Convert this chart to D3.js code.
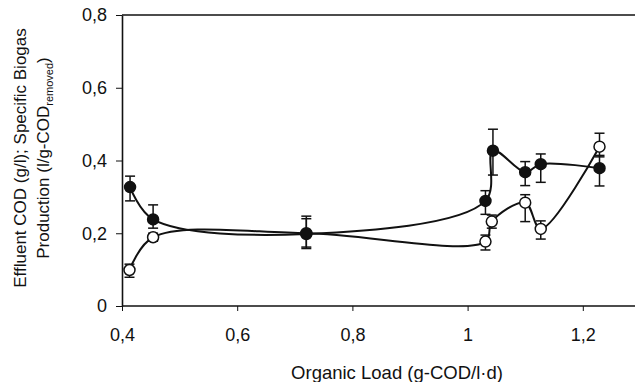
<!DOCTYPE html>
<html>
<head>
<meta charset="utf-8">
<script src="https://cdn.jsdelivr.net/npm/d3@7"></script>
<style>
  body { margin: 0; background: #fff; }
  text { font-family: "Liberation Sans", Arial, sans-serif; fill: #111; }
</style>
</head>
<body>
<div id="chart"></div>
<script>
// organic load (x) and the two series
const codLoad = [0.414, 0.454, 0.72, 1.031, 1.044, 1.1, 1.127, 1.229];
const codValue = [0.327, 0.238, 0.198, 0.289, 0.427, 0.368, 0.39, 0.379];
const codHigh = [0.357, 0.278, 0.247, 0.317, 0.486, 0.397, 0.418, 0.414];
const codLow = [0.289, 0.214, 0.162, 0.252, 0.36, 0.331, 0.34, 0.33];

const gasLoad = [0.413, 0.454, 0.72, 1.031, 1.042, 1.1, 1.127, 1.229];
const gasValue = [0.099, 0.189, 0.2, 0.177, 0.232, 0.284, 0.212, 0.438];
const gasHigh = [0.115, 0.2, 0.24, 0.195, 0.25, 0.306, 0.234, 0.475];
const gasLow = [0.079, 0.178, 0.158, 0.154, 0.214, 0.232, 0.184, 0.41];

const xTicks = [0.4, 0.6, 0.8, 1, 1.2];
const yTicks = [0, 0.2, 0.4, 0.6, 0.8];

const width = 635, height = 382;
const margin = { top: 15, bottom: 76, left: 122 };

const svg = d3.select("#chart").append("svg")
  .attr("width", width)
  .attr("height", height);

const x = d3.scaleLinear().domain([0.4, 1.3]).range([margin.left, margin.left + 0.9 * 576]);
const y = d3.scaleLinear().domain([0, 0.8]).range([height - margin.bottom, margin.top]);

const fmt = d => String(d).replace(".", ",");

// axes
const xAxis = svg.append("g")
  .attr("transform", `translate(0,${y(0)})`)
  .call(d3.axisBottom(x).tickValues(xTicks).tickFormat(fmt).tickSize(5).tickSizeOuter(0));
const yAxis = svg.append("g")
  .attr("transform", `translate(${margin.left},0)`)
  .call(d3.axisLeft(y).tickValues(yTicks).tickFormat(fmt).tickSize(6).tickSizeOuter(0));

[xAxis, yAxis].forEach(g => {
  g.select(".domain").attr("stroke", "#111").attr("stroke-width", 1.6);
  g.selectAll(".tick line").attr("stroke", "#111").attr("stroke-width", 1);
  g.selectAll(".tick text").style("font-size", "18px").attr("fill", "#111");
});
xAxis.select(".domain").attr("d", `M${margin.left},0H${width}`);
xAxis.selectAll(".tick text").attr("y", 35).attr("dy", null);
yAxis.selectAll(".tick text").attr("x", -15);

// top frame line
svg.append("line")
  .attr("x1", margin.left).attr("x2", width)
  .attr("y1", y(0.8)).attr("y2", y(0.8))
  .attr("stroke", "#111").attr("stroke-width", 1.6);

// axis titles
svg.append("text")
  .attr("x", 397).attr("y", 379)
  .attr("text-anchor", "middle")
  .style("font-size", "18.5px")
  .text("Organic Load (g-COD/l\u00b7d)");

const yTitle = svg.append("g").attr("transform", "translate(26,158) rotate(-90)");
yTitle.append("text")
  .attr("text-anchor", "middle")
  .style("font-size", "17px")
  .text("Effluent COD (g/l); Specific Biogas");
const line2 = yTitle.append("text")
  .attr("y", 23)
  .attr("text-anchor", "middle")
  .style("font-size", "17px");
line2.append("tspan").text("Production (l/g-COD");
line2.append("tspan").attr("dy", 4).style("font-size", "11px").text("removed");
line2.append("tspan").attr("dy", -4).text(")");

const line = d3.line()
  .x(d => x(d[0]))
  .y(d => y(d[1]))
  .curve(d3.curveCatmullRom.alpha(0.5));

function drawSeries(load, value, high, low, fill) {
  const pts = load.map((v, i) => [v, value[i]]);
  const g = svg.append("g");
  g.append("path")
    .datum(pts)
    .attr("fill", "none")
    .attr("stroke", "#111")
    .attr("stroke-width", 2)
    .attr("d", line);

  const bars = g.selectAll(".err")
    .data(load.map((v, i) => ({ x: v, hi: high[i], lo: low[i] })))
    .enter().append("g")
    .attr("stroke", "#111")
    .attr("stroke-width", 1.5);
  bars.append("line")
    .attr("x1", d => x(d.x)).attr("x2", d => x(d.x))
    .attr("y1", d => y(d.hi)).attr("y2", d => y(d.lo));
  bars.append("line")
    .attr("x1", d => x(d.x) - 5).attr("x2", d => x(d.x) + 5)
    .attr("y1", d => y(d.hi)).attr("y2", d => y(d.hi));
  bars.append("line")
    .attr("x1", d => x(d.x) - 5).attr("x2", d => x(d.x) + 5)
    .attr("y1", d => y(d.lo)).attr("y2", d => y(d.lo));

  g.selectAll("circle")
    .data(pts)
    .enter().append("circle")
    .attr("cx", d => x(d[0]))
    .attr("cy", d => y(d[1]))
    .attr("r", 5.5)
    .attr("fill", fill)
    .attr("stroke", "#111")
    .attr("stroke-width", 1.5);
}

drawSeries(gasLoad, gasValue, gasHigh, gasLow, "#fff");
drawSeries(codLoad, codValue, codHigh, codLow, "#111");
</script>
</body>
</html>
